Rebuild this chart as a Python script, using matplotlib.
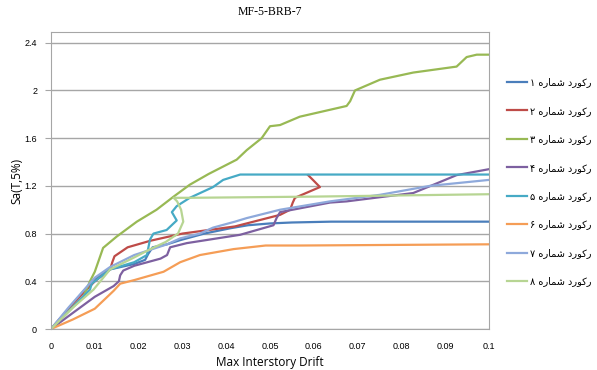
import matplotlib
matplotlib.use("Agg")
import matplotlib.pyplot as plt
from matplotlib.ticker import FixedLocator, FixedFormatter

# داده‌ها (خوانده شده از نمودار مرجع)
x1 = [0, 0.004, 0.0082, 0.01, 0.0135, 0.019, 0.0215, 0.0222, 0.0232, 0.0265, 0.0295, 0.035, 0.041, 0.045, 0.05, 0.055, 0.064, 0.1]
y1 = [0, 0.17, 0.35, 0.42, 0.50, 0.545, 0.58, 0.63, 0.685, 0.71, 0.745, 0.80, 0.845, 0.87, 0.885, 0.893, 0.90, 0.90]

x2 = [0, 0.005, 0.01, 0.0135, 0.014, 0.0145, 0.0175, 0.0227, 0.030, 0.042, 0.0523, 0.0546, 0.0552, 0.0557, 0.0614, 0.0598, 0.0587]
y2 = [0, 0.21, 0.40, 0.50, 0.56, 0.61, 0.685, 0.74, 0.80, 0.86, 0.957, 1.0, 1.06, 1.10, 1.19, 1.25, 1.29]

x3 = [0, 0.0074, 0.0089, 0.01, 0.0119, 0.015, 0.0196, 0.0241, 0.028, 0.0317, 0.036, 0.0424, 0.0447, 0.0481, 0.05, 0.0523, 0.0568, 0.0675, 0.0683, 0.0694, 0.0751, 0.0827, 0.0926, 0.0949, 0.0972, 0.1]
y3 = [0, 0.27, 0.40, 0.48, 0.68, 0.775, 0.90, 1.0, 1.11, 1.21, 1.30, 1.42, 1.50, 1.60, 1.70, 1.71, 1.78, 1.87, 1.91, 2.0, 2.09, 2.15, 2.20, 2.28, 2.30, 2.30]

x4 = [0, 0.0037, 0.01, 0.0143, 0.0155, 0.0158, 0.0165, 0.019, 0.025, 0.0265, 0.0272, 0.031, 0.0432, 0.0508, 0.0515, 0.0523, 0.0637, 0.0675, 0.0827, 0.088, 0.0926, 0.1]
y4 = [0, 0.10, 0.27, 0.36, 0.40, 0.45, 0.49, 0.53, 0.59, 0.62, 0.685, 0.72, 0.79, 0.87, 0.93, 0.98, 1.06, 1.07, 1.14, 1.22, 1.29, 1.34]

x5 = [0, 0.0089, 0.0093, 0.0135, 0.019, 0.0219, 0.0226, 0.0234, 0.0264, 0.0287, 0.0276, 0.0287, 0.0317, 0.037, 0.0393, 0.0432, 0.1]
y5 = [0, 0.33, 0.38, 0.50, 0.56, 0.62, 0.75, 0.80, 0.83, 0.91, 0.98, 1.03, 1.10, 1.19, 1.25, 1.295, 1.295]

x6 = [0, 0.005, 0.01, 0.0143, 0.0158, 0.019, 0.0257, 0.0295, 0.034, 0.0417, 0.049, 0.057, 0.1]
y6 = [0, 0.08, 0.17, 0.32, 0.38, 0.41, 0.48, 0.56, 0.62, 0.67, 0.70, 0.70, 0.71]

x7 = [0, 0.004, 0.01, 0.0135, 0.019, 0.0265, 0.0295, 0.034, 0.037, 0.042, 0.0447, 0.0523, 0.0637, 0.0751, 0.0865, 0.1]
y7 = [0, 0.18, 0.43, 0.52, 0.62, 0.71, 0.76, 0.80, 0.85, 0.90, 0.93, 1.0, 1.07, 1.125, 1.20, 1.25]

x8 = [0, 0.005, 0.0097, 0.0135, 0.019, 0.0227, 0.0262, 0.029, 0.0302, 0.0297, 0.0288, 0.028, 0.032, 0.06, 0.1]
y8 = [0, 0.18, 0.33, 0.50, 0.60, 0.67, 0.73, 0.80, 0.90, 1.00, 1.07, 1.10, 1.10, 1.11, 1.13]

series_x = [x1, x2, x3, x4, x5, x6, x7, x8]
series_y = [y1, y2, y3, y4, y5, y6, y7, y8]
colors = ['#4a7ebb', '#be4b48', '#98b954', '#7d60a0', '#46aac5', '#f59d56', '#8ea9db', '#b7d593']
labels = ['رکورد شماره ' + d for d in '۱۲۳۴۵۶۷۸']

x_ticks = [0, 0.01, 0.02, 0.03, 0.04, 0.05, 0.06, 0.07, 0.08, 0.09, 0.1]
x_tick_labels = ['0', '0.01', '0.02', '0.03', '0.04', '0.05', '0.06', '0.07', '0.08', '0.09', '0.1']
y_ticks = [0, 0.4, 0.8, 1.2, 1.6, 2.0, 2.4]
y_tick_labels = ['0', '0.4', '0.8', '1.2', '1.6', '2', '2.4']

# شکل‌دهی ساده حروف فارسی (matplotlib متن راست‌به‌چپ را شکل نمی‌دهد)
forms = {
    'ر': (0xFEAD, 0xFEAE, None, None),
    'د': (0xFEA9, 0xFEAA, None, None),
    'و': (0xFEED, 0xFEEE, None, None),
    'ا': (0xFE8D, 0xFE8E, None, None),
    'ک': (0xFB8E, 0xFB8F, 0xFB90, 0xFB91),
    'ش': (0xFEB5, 0xFEB6, 0xFEB7, 0xFEB8),
    'م': (0xFEE1, 0xFEE2, 0xFEE3, 0xFEE4),
    'ه': (0xFEE9, 0xFEEA, 0xFEEB, 0xFEEC),
}


def shape(text):
    out = []
    for i, c in enumerate(text):
        if c not in forms:
            out.append(c)
            continue
        prev = text[i - 1] if i > 0 else ' '
        nxt = text[i + 1] if i + 1 < len(text) else ' '
        join_prev = prev in forms and forms[prev][2] is not None
        join_next = nxt in forms and forms[c][2] is not None
        iso, fin, ini, med = forms[c]
        if join_prev and join_next:
            code = med
        elif join_prev:
            code = fin
        elif join_next:
            code = ini
        else:
            code = iso
        out.append(chr(code))
    return ''.join(reversed(out))


fig = plt.figure(figsize=(5.97, 3.70), dpi=100)
ax = fig.add_axes([0.0854, 0.1108, 0.7337, 0.8027])

for xs, ys, c, lab in zip(series_x, series_y, colors, labels):
    ax.plot(xs, ys, color=c, lw=1.6, label=shape(lab), solid_joinstyle='round')

ax.set_xlim(0, 0.1)
ax.set_ylim(0, 2.49)
ax.xaxis.set_major_locator(FixedLocator(x_ticks))
ax.xaxis.set_major_formatter(FixedFormatter(x_tick_labels))
ax.yaxis.set_major_locator(FixedLocator(y_ticks))
ax.yaxis.set_major_formatter(FixedFormatter(y_tick_labels))
ax.grid(axis='y', color='#a6a6a6', lw=1)
ax.set_axisbelow(True)
for s in ax.spines.values():
    s.set_color('#a6a6a6')
ax.tick_params(axis='y', length=4, color='#a6a6a6', labelsize=6.5, pad=6)
ax.tick_params(axis='x', length=0, labelsize=6.5, pad=9)
for lb in ax.get_xticklabels() + ax.get_yticklabels():
    lb.set_fontfamily('Liberation Sans')

ax.set_title('MF-5-BRB-7', fontfamily='Liberation Serif', fontsize=8.5, pad=12)
ax.set_xlabel('Max Interstory Drift', fontfamily='Open Sans', fontsize=8.5, labelpad=4)
ax.set_ylabel('Sa(T,5%)', fontfamily='Open Sans', fontsize=8.5, labelpad=1)

leg = ax.legend(loc='upper left', bbox_to_anchor=(0.835, 0.815), bbox_transform=fig.transFigure,
                frameon=False, prop={'family': 'DejaVu Sans', 'size': 7},
                handlelength=2.0, handletextpad=0.3, labelspacing=1.9)

fig.savefig('out.png', dpi=100)
